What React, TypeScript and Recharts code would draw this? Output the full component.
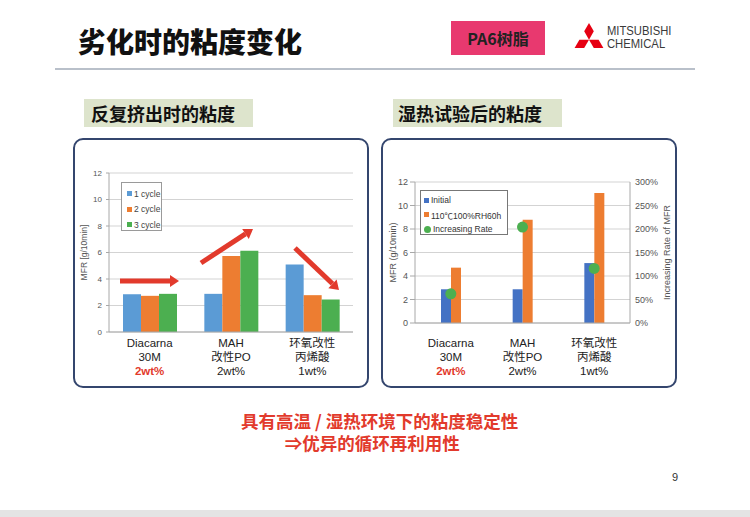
import React from 'react';
import {
  ComposedChart, Bar, Scatter, XAxis, YAxis, CartesianGrid, Legend,
} from 'recharts';

// ---- data ----
const categories = ['Diacarna', 'MAH', '环氧改性'];
const labelLine2 = ['30M', '改性PO', '丙烯酸'];
const labelLine3 = ['2wt%', '2wt%', '1wt%'];
const highlightLine3 = [true, false, false];

const cycle1 = [2.85, 2.88, 5.1];
const cycle2 = [2.73, 5.73, 2.78];
const cycle3 = [2.88, 6.14, 2.45];
const cycleNames = ['1 cycle', '2 cycle', '3 cycle'];

const initialMfr = [2.87, 2.87, 5.1];
const humidMfr = [4.71, 8.79, 11.06];
const increaseRate = [62, 204, 116];
const humidNames = ['Initial', '110℃100%RH60h', 'Increasing Rate'];

const mfrTicks = [0, 2, 4, 6, 8, 10, 12];
const rateTicks = [0, 50, 100, 150, 200, 250, 300];

const leftData = categories.map((c, i) => ({ cat: c, c1: cycle1[i], c2: cycle2[i], c3: cycle3[i] }));
const rightData = categories.map((c, i) => ({ cat: c, init: initialMfr[i], humid: humidMfr[i], rate: increaseRate[i] }));

// ---- styles ----
const CJK = '"Noto Sans CJK SC", "Noto Sans", sans-serif';
const LAT = '"Liberation Sans", Arial, "Noto Sans CJK SC", sans-serif';
const RED = '#E23A2C';
const GRID = '#D3D3D3';
const AXIS = '#A8A8A8';
const TICK = '#555555';

const leftColors = ['#5B9BD5', '#ED7D31', '#4CAF50'];
const rightColors = ['#4472C4', '#ED7D31', '#4CAF50'];

const makeTick = (o1: number, o2: number, o3: number) => (props: any) => {
  const { x, y, payload } = props;
  const i = categories.indexOf(payload.value);
  const common = { x, textAnchor: 'middle' as const, dominantBaseline: 'central' as const, fontFamily: LAT, fontSize: 11.5 };
  return (
    <g>
      <text {...common} y={y + o1} fill="#222">{payload.value}</text>
      <text {...common} y={y + o2} fill="#222">{labelLine2[i]}</text>
      <text {...common} y={y + o3} fill={highlightLine3[i] ? RED : '#222'} fontWeight={highlightLine3[i] ? 700 : 400}>{labelLine3[i]}</text>
    </g>
  );
};

const LeftLegend = () => (
  <div style={{ border: '1px solid #9a9a9a', background: '#fff', width: 41, height: 49, boxSizing: 'border-box', padding: '3px 0 0 5px' }}>
    {cycleNames.map((n, i) => (
      <div key={n} style={{ display: 'flex', alignItems: 'center', height: 15.5, fontFamily: LAT, fontSize: 8.5, color: '#444' }}>
        <span style={{ display: 'inline-block', width: 5, height: 5, background: leftColors[i], marginRight: 2 }} />
        {n}
      </div>
    ))}
  </div>
);

const RightLegend = () => (
  <div style={{ border: '1px solid #777', background: '#fff', width: 88, height: 45, boxSizing: 'border-box', padding: '2px 0 0 3px' }}>
    {humidNames.map((n, i) => (
      <div key={n} style={{ display: 'flex', alignItems: 'center', height: 14.5, fontFamily: LAT, fontSize: 8.5, color: '#333' }}>
        <span style={{ display: 'inline-block', width: i === 2 ? 7 : 5, height: i === 2 ? 7 : 5, borderRadius: i === 2 ? '50%' : 0, background: rightColors[i], marginRight: 2 }} />
        {n}
      </div>
    ))}
  </div>
);

const Dot = (props: any) => {
  const { cx, cy } = props;
  return <circle cx={cx} cy={cy} r={5.5} fill={rightColors[2]} />;
};

const Arrow = ({ x1, y1, x2, y2 }: { x1: number; y1: number; x2: number; y2: number }) => {
  const ang = Math.atan2(y2 - y1, x2 - x1);
  const hl = 9, hw = 6;
  const bx = x2 - hl * Math.cos(ang), by = y2 - hl * Math.sin(ang);
  const px = -Math.sin(ang), py = Math.cos(ang);
  return (
    <g>
      <line x1={x1} y1={y1} x2={bx} y2={by} stroke={RED} strokeWidth={5} />
      <polygon points={`${x2},${y2} ${bx + px * hw},${by + py * hw} ${bx - px * hw},${by - py * hw}`} fill={RED} />
    </g>
  );
};

const abs = (l: number, t: number, w: number, h: number): React.CSSProperties => ({ position: 'absolute', left: l, top: t, width: w, height: h });

export default function App() {
  const a = 9.6;
  const s3 = Math.sqrt(3);
  const diamond = `0,0 ${a / 2},${-a * s3 / 2} 0,${-a * s3} ${-a / 2},${-a * s3 / 2}`;
  return (
    <div style={{ position: 'absolute', left: 0, top: 0, width: 750, height: 517, background: '#fff', overflow: 'hidden' }}>
      {/* title */}
      <div style={{ ...abs(78, 26, 260, 30), fontFamily: CJK, fontWeight: 900, fontSize: 28, lineHeight: '30px', color: '#111' }}>劣化时的粘度变化</div>
      <div style={{ ...abs(451, 21, 94, 34), background: '#E8396F', fontFamily: CJK, fontWeight: 700, fontSize: 16, lineHeight: '34px', textAlign: 'center', color: '#222' }}>PA6树脂</div>
      <svg style={abs(570, 20, 40, 34)} width={40} height={34}>
        <g transform={`translate(19, ${3 + a * s3})`} fill="#E60012">
          <polygon points={diamond} />
          <polygon points={diamond} transform="rotate(120)" />
          <polygon points={diamond} transform="rotate(240)" />
        </g>
      </svg>
      <div style={{ ...abs(607, 25, 90, 28), fontFamily: LAT, fontSize: 12.5, lineHeight: '12.5px', color: '#3a3a3a', transform: 'scaleX(0.9)', transformOrigin: 'left top', whiteSpace: 'pre' }}>
        {'MITSUBISHI\nCHEMICAL'}
      </div>
      <div style={{ ...abs(55, 68, 640, 2), background: '#B9C0CA' }} />

      {/* subtitles */}
      <div style={{ ...abs(84, 99, 169, 28), background: '#DDE4CC', fontFamily: CJK, fontWeight: 700, fontSize: 18, lineHeight: '28px', paddingLeft: 7, boxSizing: 'border-box', color: '#111' }}>反复挤出时的粘度</div>
      <div style={{ ...abs(393, 99, 169, 28), background: '#DDE4CC', fontFamily: CJK, fontWeight: 700, fontSize: 18, lineHeight: '28px', paddingLeft: 5, boxSizing: 'border-box', color: '#111' }}>湿热试验后的粘度</div>

      {/* panels */}
      <div style={{ ...abs(73, 138, 296, 250), border: '2px solid #34466E', borderRadius: 10, boxSizing: 'border-box' }} />
      <div style={{ ...abs(381, 138, 296, 250), border: '2px solid #34466E', borderRadius: 10, boxSizing: 'border-box' }} />

      {/* left chart */}
      <div style={abs(73, 138, 296, 250)}>
        <ComposedChart width={296} height={250} data={leftData} margin={{ top: 35, right: 16, bottom: 6, left: 0 }} barGap={0} barSize={18}>
          <CartesianGrid horizontal vertical={false} stroke={GRID} />
          <XAxis dataKey="cat" axisLine={{ stroke: AXIS }} tickLine={false} tickSize={0} tickMargin={0} height={50} interval={0} tick={makeTick(11, 25, 39)} />
          <YAxis domain={[0, 12]} ticks={mfrTicks} width={36} axisLine={{ stroke: AXIS }} tickLine={{ stroke: AXIS }} tickSize={3} tickMargin={4}
            tick={{ fontSize: 8, fill: TICK, fontFamily: LAT }}
            label={{ value: 'MFR [g/10min]', angle: -90, position: 'center', dx: -7, style: { fontSize: 8.5, fill: TICK, fontFamily: LAT } }} />
          <Legend layout="vertical" align="center" verticalAlign="middle" wrapperStyle={{ position: 'absolute', left: 48, top: 44, width: 41, height: 49 }} content={() => <LeftLegend />} />
          <Bar dataKey="c1" name={cycleNames[0]} fill={leftColors[0]} isAnimationActive={false} />
          <Bar dataKey="c2" name={cycleNames[1]} fill={leftColors[1]} isAnimationActive={false} />
          <Bar dataKey="c3" name={cycleNames[2]} fill={leftColors[2]} isAnimationActive={false} />
        </ComposedChart>
      </div>
      <svg style={abs(0, 0, 750, 517)} width={750} height={517} pointerEvents="none">
        <Arrow x1={120} y1={281} x2={179} y2={281} />
        <Arrow x1={201} y1={263} x2={253} y2={229} />
        <Arrow x1={295} y1={248} x2={339} y2={290} />
      </svg>

      {/* right chart */}
      <div style={abs(381, 138, 296, 250)}>
        <ComposedChart width={296} height={250} data={rightData} margin={{ top: 44, right: 0, bottom: 7, left: 0 }} barGap={0} barSize={10}>
          <CartesianGrid horizontal vertical={false} stroke={GRID} yAxisId="left" />
          <XAxis dataKey="cat" axisLine={{ stroke: AXIS }} tickLine={false} tickSize={0} tickMargin={0} height={58} interval={0} tick={makeTick(20, 34, 48)} />
          <YAxis yAxisId="left" domain={[0, 12]} ticks={mfrTicks} width={34} axisLine={{ stroke: AXIS }} tickLine={{ stroke: AXIS }} tickSize={5} tickMargin={2}
            tick={{ fontSize: 9, fill: TICK, fontFamily: LAT }}
            label={{ value: 'MFR (g/10min)', angle: -90, position: 'center', dx: -5, style: { fontSize: 9, fill: TICK, fontFamily: LAT } }} />
          <YAxis yAxisId="right" orientation="right" domain={[0, 300]} ticks={rateTicks} width={47} axisLine={{ stroke: AXIS }} tickLine={false} tickSize={0} tickMargin={5}
            tickFormatter={(v: number) => `${v}%`}
            tick={{ fontSize: 9, fill: TICK, fontFamily: LAT, textAnchor: 'start' }}
            label={{ value: 'Increasing Rate of MFR', angle: -90, position: 'center', dx: 13, style: { fontSize: 9, fill: TICK, fontFamily: LAT } }} />
          <Legend layout="vertical" align="center" verticalAlign="middle" wrapperStyle={{ position: 'absolute', left: 39, top: 52, width: 88, height: 45 }} content={() => <RightLegend />} />
          <Bar yAxisId="left" dataKey="init" name={humidNames[0]} fill={rightColors[0]} isAnimationActive={false} />
          <Bar yAxisId="left" dataKey="humid" name={humidNames[1]} fill={rightColors[1]} isAnimationActive={false} />
          <Scatter yAxisId="right" dataKey="rate" name={humidNames[2]} fill={rightColors[2]} shape={<Dot />} isAnimationActive={false} />
        </ComposedChart>
      </div>

      {/* conclusion */}
      <div style={{ ...abs(241, 410, 320, 46), fontFamily: CJK, fontWeight: 700, fontSize: 17.5, lineHeight: '22px', color: RED, whiteSpace: 'pre' }}>
        {'具有高温 / 湿热环境下的粘度稳定性\n           ⇒优异的循环再利用性'}
      </div>
      <div style={{ ...abs(672, 471, 14, 16), fontFamily: LAT, fontSize: 11, color: '#333' }}>9</div>
      <div style={{ ...abs(0, 510, 750, 7), background: '#E4E4E4' }} />
    </div>
  );
}
